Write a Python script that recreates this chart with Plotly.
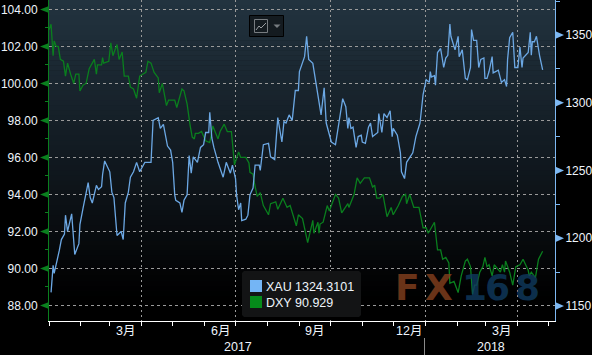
import pandas as pd
import plotly.graph_objects as go

W, H = 592, 355
L, R, T, B = 49, 555, 0, 321

xau_days = [2,4,5,7,10,12,15,16,18,22,25,29,30,33,36,38,40,42,46,48,51,52,54,59,61,63,66,70,72,74,77,79,82,85,88,93,99,101,106,108,111,115,118,120,122,123,127,129,131,134,136,138,140,144,147,150,152,155,156,158,160,164,169,172,176,178,181,182,184,186,187,191,193,195,198,200,204,205,208,213,215,219,222,226,228,230,233,236,239,242,243,248,250,252,256,260,264,267,269,274,278,285,288,290,291,293,295,298,300,303,304,307,310,312,314,319,320,323,325,328,331,333,334,338,341,342,345,347,353,356,360,363,366,369,370,371,374,375,377,380,383,385,387,389,390,394,397,398,401,404,406,409,410,412,415,417,419,422,423,425,427,430,431,436,439,442,444,445,447,450,452,455,457,459,460,465,467,468,469,471,473,476,479]
xau_vals = [1160,1180,1174,1180,1191,1199,1203,1217,1205,1218,1188,1196,1210,1222,1234,1241,1230,1226,1239,1236,1238,1247,1257,1249,1234,1230,1202,1205,1199,1226,1234,1245,1249,1256,1249,1256,1256,1287,1289,1281,1284,1268,1265,1256,1232,1228,1226,1219,1228,1232,1261,1248,1260,1256,1267,1269,1278,1278,1293,1274,1267,1256,1245,1256,1248,1254,1244,1232,1221,1226,1213,1214,1217,1232,1237,1254,1254,1250,1269,1270,1260,1258,1289,1271,1286,1285,1291,1287,1309,1309,1323,1334,1349,1332,1329,1311,1291,1311,1285,1271,1269,1303,1297,1281,1289,1281,1282,1267,1275,1276,1271,1270,1282,1285,1275,1278,1292,1278,1292,1289,1294,1275,1281,1276,1263,1249,1244,1256,1263,1275,1285,1306,1317,1315,1323,1319,1320,1313,1337,1340,1326,1333,1335,1358,1349,1339,1349,1334,1339,1318,1317,1326,1354,1346,1346,1326,1332,1333,1318,1318,1323,1334,1322,1324,1315,1317,1312,1332,1348,1352,1326,1326,1341,1326,1333,1337,1352,1335,1345,1345,1349,1335,1324.31]

dxy_days = [0,2,4,5,7,9,11,14,16,18,21,24,26,29,30,33,36,39,44,46,47,51,52,53,58,60,62,66,68,71,73,77,79,82,85,88,94,96,99,102,106,107,110,114,116,122,124,129,131,134,137,139,141,142,145,148,152,156,159,164,166,170,173,177,180,184,186,191,194,195,198,199,202,205,208,213,215,220,222,227,231,234,240,242,246,251,256,257,261,262,263,266,270,272,278,281,284,290,291,296,299,302,306,311,314,316,318,321,324,328,332,334,339,343,346,347,350,354,359,363,366,368,374,377,380,382,385,388,389,393,397,400,404,406,409,411,413,415,418,421,423,425,427,430,432,438,440,442,443,447,450,453,457,460,465,466,468,472,475,479]
dxy_vals = [102.9,103.2,101.5,102.3,102.0,102.0,101.3,101.2,100.4,101.1,100.5,100.0,100.5,100.5,99.6,99.9,100.0,100.8,101.3,100.5,101.0,101.0,101.4,101.1,101.2,102.2,101.5,102.1,101.3,101.7,100.4,100.4,99.8,99.7,99.2,100.4,100.6,101.2,101.1,100.6,100.3,99.5,100.0,98.8,99.1,99.1,98.7,99.7,99.6,98.9,97.7,97.1,97.0,97.3,97.3,97.4,96.9,96.8,97.7,97.0,97.4,97.8,97.4,97.4,95.6,96.3,96.0,96.0,95.7,95.2,95.1,94.7,93.9,94.1,93.4,92.9,93.5,93.6,93.2,93.8,93.3,93.4,92.3,92.9,92.7,91.4,92.6,91.9,92.5,91.9,92.4,92.5,93.4,93.1,94.0,93.8,93.0,93.5,93.3,94.0,94.9,94.6,94.9,94.9,94.4,94.5,93.8,93.8,94.0,92.8,93.3,92.9,93.4,93.9,94.0,93.5,94.0,93.3,93.3,92.2,92.2,91.9,92.5,91.0,91.0,90.5,90.6,90.3,89.2,89.3,88.7,89.6,90.4,90.5,90.1,88.6,89.1,89.1,89.8,90.1,90.6,90.1,90.2,89.6,90.2,89.8,90.2,89.8,90.4,89.8,89.1,90.1,90.2,90.5,89.9,89.6,89.8,89.5,90.5,90.93]

left_ticks = [88, 90, 92, 94, 96, 98, 100, 102, 104]
right_ticks = [1150, 1200, 1250, 1300, 1350]
quarter_starts = ["2017-04-01", "2017-07-01", "2017-10-01", "2018-01-01", "2018-04-01"]
month_labels = [("2017-03-16", "3月"), ("2017-06-16", "6月"), ("2017-09-16", "9月"), ("2017-12-16", "12月"), ("2018-03-16", "3月")]
year_labels = [("2017-07-03", "2017"), ("2018-03-06", "2018")]
legend_rows = [("XAU", "1324.3101"), ("DXY", "90.929")]

BLUE, GREEN = "#6ca8e4", "#0a7f1e"
TXT = "#eef4fb"
FONT = "Liberation Sans"
base = pd.Timestamp("2017-01-01")


def dates(days):
    return base + pd.to_timedelta(days, unit="D")


def px(x):
    return (x - L) / (R - L)


def py(y):
    return (B - y) / (B - T)


fig = go.Figure()
fig.add_trace(go.Scatter(x=dates(dxy_days), y=dxy_vals, mode="lines", line=dict(color=GREEN, width=1.3), yaxis="y", hoverinfo="skip"))
fig.add_trace(go.Scatter(x=dates(xau_days), y=xau_vals, mode="lines", line=dict(color=BLUE, width=1.3), yaxis="y2", hoverinfo="skip"))

shapes = []
# background gradient
N = 64
for i in range(N):
    t = i / (N - 1)
    if t < 0.55:
        u = t / 0.55
        c = (34 + (15 - 34) * u, 51 + (22 - 51) * u, 63 + (28 - 63) * u)
    else:
        u = min((t - 0.55) / 0.38, 1)
        c = tuple(v * (1 - u) for v in (15, 22, 28))
    shapes.append(dict(type="rect", layer="below", xref="paper", yref="paper", x0=0, x1=1,
                       y0=1 - (i + 1) / N - 0.002, y1=1 - i / N, line_width=0,
                       fillcolor=f"rgb({c[0]:.0f},{c[1]:.0f},{c[2]:.0f})"))

for v in left_ticks:
    shapes.append(dict(type="path", xref="paper", yref="y", xsizemode="pixel", ysizemode="pixel",
                       xanchor=0, yanchor=v, path="M 0 -3.5 L -9 0 L 0 3.5 Z", fillcolor=GREEN, line_width=0))
for v in right_ticks:
    shapes.append(dict(type="path", xref="paper", yref="y2", xsizemode="pixel", ysizemode="pixel",
                       xanchor=1, yanchor=v, path="M 0 -4 L 9 0 L 0 4 Z", fillcolor="#7db8f2", line_width=0))


def rect(x0, y0, x1, y1, **kw):
    shapes.append(dict(type="rect", xref="paper", yref="paper", x0=px(x0), x1=px(x1), y0=py(y1), y1=py(y0), **kw))


# year separator
shapes.append(dict(type="line", xref="paper", yref="paper", x0=px(424.5), x1=px(424.5), y0=py(338), y1=py(355),
                   line=dict(color="#8a8a8a", width=1)))
# chart-type button
rect(249.5, 15.5, 283.5, 36.5, fillcolor="#141b20", line=dict(color="#000000", width=1))
rect(254.5, 19.5, 267.5, 32.5, fillcolor="rgba(0,0,0,0)", line=dict(color="#777c80", width=1))
shapes.append(dict(type="path", xref="paper", yref="paper",
                   path=f"M {px(256)} {py(30)} L {px(259)} {py(26)} L {px(261)} {py(28)} L {px(266)} {py(23)}",
                   line=dict(color="#9a9ea2", width=1)))
shapes.append(dict(type="path", xref="paper", yref="paper",
                   path=f"M {px(273.5)} {py(24.5)} L {px(280.5)} {py(24.5)} L {px(277)} {py(28)} Z",
                   fillcolor="#777c80", line_width=0))
# legend
shapes.append(dict(type="path", xref="paper", yref="paper",
                   path=f"M {px(244)} {py(271)} L {px(359)} {py(271)} L {px(361)} {py(273)} L {px(361)} {py(315)} L {px(359)} {py(317)} L {px(244)} {py(317)} L {px(242)} {py(315)} L {px(242)} {py(273)} Z",
                   fillcolor="#131415", line_width=0))
rect(250, 280, 262, 292, fillcolor="#74b5f5", line_width=0)
rect(250, 296, 262, 308, fillcolor="#058a1a", line_width=0)

ann = []


def text(x, y, s, size=12.5, color=TXT, anchor="left", family=FONT, opacity=1.0):
    ann.append(dict(xref="paper", yref="paper", x=px(x), y=py(y), text=s, showarrow=False, xanchor=anchor,
                    yanchor="middle", font=dict(size=size, color=color, family=family), opacity=opacity,
                    borderpad=0, xshift=0))


for d, s in month_labels:
    ann.append(dict(xref="x", yref="paper", x=d, y=py(331), text=s, showarrow=False, xanchor="center", yanchor="middle",
                    font=dict(size=12.5, color=TXT, family=f"{FONT}, Noto Sans CJK SC")))
for d, s in year_labels:
    ann.append(dict(xref="x", yref="paper", x=d, y=py(347), text=s, showarrow=False, xanchor="center", yanchor="middle",
                    font=dict(size=12.5, color=TXT, family=FONT)))

for (name, val), y in zip(legend_rows, (287, 303)):
    text(265, y, name, size=12.5)
    text(293.5, y, val, size=12.5)

# watermark
wm_font = "DejaVu Sans"
for x, s, c in [(394, "F", "#84401e"), (424, "X", "#84401e"), (461, "1", "#0f3a5e"), (484, "6", "#0f3a5e"), (514, "8", "#0f3a5e")]:
    text(x, 287, f"<b>{s}</b>", size=36, color=c, family=wm_font, opacity=0.8)

fig.update_layout(
    width=W, height=H, autosize=False,
    margin=dict(l=L, r=W - R, t=T, b=H - B, pad=0),
    paper_bgcolor="#000000", plot_bgcolor="rgba(0,0,0,0)",
    showlegend=False, shapes=shapes, annotations=ann,
    xaxis=dict(
        automargin=False,
        type="date", range=["2017-01-01", "2018-05-07"], tickmode="array", tickvals=quarter_starts,
        ticktext=[""] * len(quarter_starts), ticks="outside", ticklen=4, tickcolor="#ffffff", tickwidth=1,
        showline=True, linecolor="#ffffff", linewidth=1,
        showgrid=True, gridcolor="#9a9a9a", griddash="2px,3px", gridwidth=1, zeroline=False,
        minor=dict(ticks="outside", ticklen=4, tickcolor="#ffffff", tickwidth=1, dtick="M1", tick0="2017-01-01", showgrid=False),
    ),
    yaxis=dict(
        automargin=False,
        range=[87.16, 104.51], tickmode="array", tickvals=left_ticks, ticktext=[f"{v:.2f}" for v in left_ticks],
        ticks="outside", ticklen=8, tickcolor="rgba(0,0,0,0)", showline=True, linecolor=GREEN, linewidth=1,
        showgrid=True, gridcolor="#9a9a9a", griddash="3px,3px", gridwidth=1, zeroline=False,
        tickfont=dict(family=FONT, size=12, color=TXT),
        minor=dict(ticks="outside", ticklen=3, tickcolor=GREEN, dtick=1, tick0=88, showgrid=False),
    ),
    yaxis2=dict(
        automargin=False,
        overlaying="y", side="right", range=[1138.9, 1375.8], tickmode="array", tickvals=right_ticks,
        ticktext=[str(v) for v in right_ticks], ticks="outside", ticklen=7, tickcolor="rgba(0,0,0,0)",
        showline=True, linecolor="#7db8f2", linewidth=1, showgrid=False, zeroline=False,
        tickfont=dict(family=FONT, size=12, color=TXT),
        minor=dict(ticks="outside", ticklen=4, tickcolor="#7db8f2", dtick=25, tick0=1150, showgrid=False),
    ),
)
fig.write_html("out.html", config={"displayModeBar": False},
               post_script="document.body.style.margin='0';document.body.style.background='#000';document.documentElement.style.overflow='hidden';")
